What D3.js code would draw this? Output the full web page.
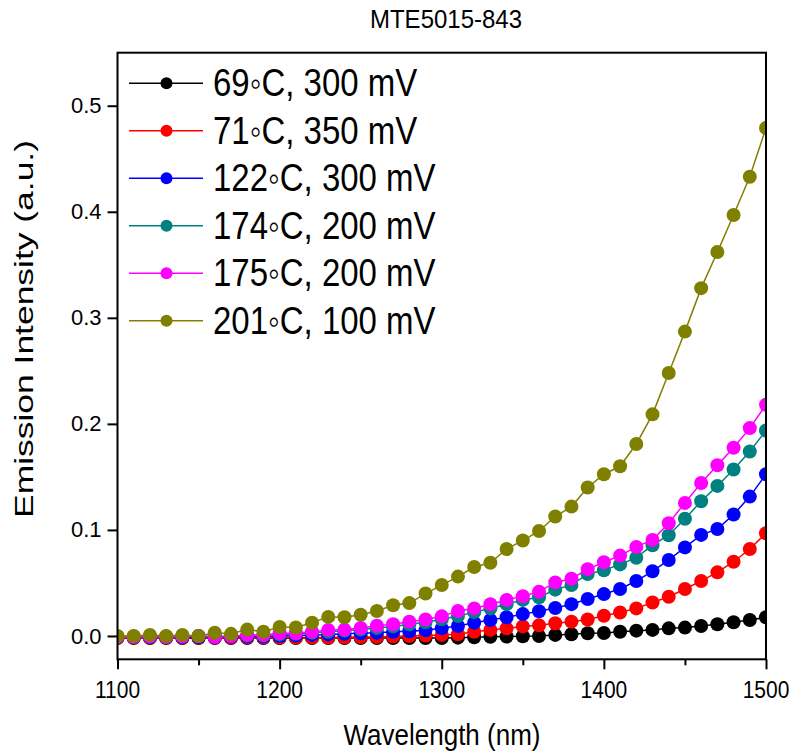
<!DOCTYPE html>
<html>
<head>
<meta charset="utf-8">
<script src="https://cdn.jsdelivr.net/npm/d3@7"></script>
<style>
  body { margin: 0; background: #fff; }
  text { font-family: "Liberation Sans", Arial, sans-serif; fill: #000; }
</style>
</head>
<body>
<div id="chart"></div>
<script>
// wavelength grid (nm)
const wavelengths = d3.range(1100, 1501, 10);

// emission intensity per series, one value per wavelength
const s69 = [-0.002, -0.002, -0.002, -0.002, -0.002, -0.002, -0.002, -0.002, -0.002, -0.002,
    -0.002, -0.002, -0.002, -0.002, -0.002, -0.002, -0.002, -0.002, -0.002, -0.002,
    -0.002, -0.0016, -0.0012, -0.0007, -0.0005, -0.0003, 0.0, 0.001, 0.0016, 0.0025,
    0.0028, 0.004, 0.005, 0.0057, 0.0072, 0.0079, 0.0094, 0.011, 0.0129, 0.0151, 0.0176];
const s71 = [-0.0015, -0.0015, -0.0015, -0.0015, -0.0015, -0.0015, -0.0015, -0.0015, -0.0015, -0.0015,
    -0.0015, -0.0015, -0.0015, -0.0015, -0.0012, -0.001, -0.001, -0.0005, 0.0, 0.0005,
    0.001, 0.0016, 0.004, 0.0057, 0.0072, 0.009, 0.010, 0.012, 0.0135, 0.0155,
    0.019, 0.0222, 0.026, 0.0316, 0.037, 0.0443, 0.0519, 0.060, 0.070, 0.082, 0.0969];
const s122 = [-0.001, -0.001, -0.001, -0.001, -0.001, -0.001, -0.001, -0.0005, -0.0005, -0.0005,
    0.0, 0.0005, 0.001, 0.0015, 0.002, 0.0025, 0.003, 0.004, 0.0045, 0.0055,
    0.0072, 0.0094, 0.0125, 0.015, 0.0176, 0.0206, 0.0233, 0.0264, 0.030, 0.0348,
    0.0395, 0.0443, 0.0519, 0.061, 0.0717, 0.0835, 0.0953, 0.1008, 0.1145, 0.1314, 0.1525];
const s174 = [-0.0005, -0.0005, -0.0005, -0.0005, -0.0005, 0.0, -0.0005, 0.0, 0.0005, 0.0005,
    0.0015, 0.002, 0.003, 0.004, 0.005, 0.006, 0.0075, 0.009, 0.011, 0.013,
    0.0157, 0.0189, 0.0225, 0.026, 0.030, 0.034, 0.0365, 0.0437, 0.048, 0.0585,
    0.062, 0.0675, 0.0738, 0.0856, 0.095, 0.1105, 0.127, 0.1415, 0.157, 0.174, 0.1937];
const s175 = [-0.001, -0.001, -0.0005, -0.001, -0.0005, 0.0, -0.001, 0.0, 0.001, 0.001,
    0.0025, 0.0025, 0.004, 0.0057, 0.006, 0.0075, 0.0097, 0.011, 0.0135, 0.0155,
    0.0185, 0.0236, 0.026, 0.0299, 0.034, 0.0374, 0.0418, 0.0505, 0.054, 0.063,
    0.0695, 0.0758, 0.084, 0.0906, 0.1063, 0.1255, 0.1443, 0.161, 0.1775, 0.196, 0.218];
const s201 = [0.0, 0.0, 0.001, 0.0, 0.001, 0.0, 0.003, 0.002, 0.006, 0.004,
    0.0085, 0.008, 0.0125, 0.018, 0.0176, 0.020, 0.0236, 0.029, 0.031, 0.040,
    0.048, 0.056, 0.065, 0.069, 0.082, 0.090, 0.099, 0.1126, 0.122, 0.140,
    0.1525, 0.160, 0.181, 0.209, 0.248, 0.287, 0.328, 0.362, 0.397, 0.433, 0.479];

const seriesNames = ['69\u25E6C, 300 mV', '71\u25E6C, 350 mV', '122\u25E6C, 300 mV',
    '174\u25E6C, 200 mV', '175\u25E6C, 200 mV', '201\u25E6C, 100 mV'];
const seriesValues = [s69, s71, s122, s174, s175, s201];
const seriesColors = ['#000000', '#ff0000', '#0000ff', '#008080', '#ff00ff', '#808000'];

const xTicks = [1100, 1200, 1300, 1400, 1500];
const xMinorTicks = [1150, 1250, 1350, 1450];
const yTicks = [0.0, 0.1, 0.2, 0.3, 0.4, 0.5];

// text in the source looks a bit stretched vertically
function tallText(sel, x, y, k) {
    return sel.append('text')
        .attr('transform', 'translate(' + x + ',' + y + ') scale(1,' + k + ')');
}

function DrawChart(idDomElement) {
    const width = 792;
    const height = 751;
    const left = 117.5, right = 766, top = 52.7, bottom = 659.3;

    let svg = d3.select(`#${idDomElement}`)
        .append('svg')
        .attr('width', width)
        .attr('height', height);

    const scaleX = d3.scaleLinear().domain([1100, 1500]).range([left, right]);
    const scaleY = d3.scaleLinear().domain([-0.022, 0.55]).range([bottom, top]);

    // clip marks to plot frame
    svg.append('clipPath').attr('id', 'plotClip')
        .append('rect')
        .attr('x', left).attr('y', top)
        .attr('width', right - left).attr('height', bottom - top);

    const plot = svg.append('g').attr('clip-path', 'url(#plotClip)');

    seriesValues.forEach(function (vals, k) {
        const pts = wavelengths.map((w, i) => ({ x: w, y: vals[i] }));
        const g = plot.append('g');
        g.append('path')
            .datum(pts)
            .attr('fill', 'none')
            .attr('stroke', seriesColors[k])
            .attr('stroke-width', 1.5)
            .attr('d', d3.line().x(d => scaleX(d.x)).y(d => scaleY(d.y)));
        g.selectAll('circle')
            .data(pts)
            .enter().append('circle')
            .attr('cx', d => scaleX(d.x))
            .attr('cy', d => scaleY(d.y))
            .attr('r', 7)
            .attr('fill', seriesColors[k]);
    });

    // frame
    svg.append('rect')
        .attr('x', left).attr('y', top)
        .attr('width', right - left).attr('height', bottom - top)
        .attr('fill', 'none')
        .attr('stroke', '#000')
        .attr('stroke-width', 2);

    // x axis (labels drawn separately so they can be stretched)
    const xAxis = d3.axisBottom(scaleX).tickValues(xTicks).tickSize(10).tickFormat('');
    const gx = svg.append('g')
        .attr('transform', 'translate(0,' + bottom + ')')
        .call(xAxis);
    gx.select('.domain').remove();
    gx.selectAll('line').attr('stroke-width', 2);
    xTicks.forEach(function (t) {
        tallText(svg, scaleX(t), 698, 1.12)
            .attr('text-anchor', 'middle')
            .style('font-size', '21px')
            .text(t);
    });

    const xMinor = d3.axisBottom(scaleX).tickValues(xMinorTicks).tickSize(6).tickFormat('');
    const gxm = svg.append('g')
        .attr('transform', 'translate(0,' + bottom + ')')
        .call(xMinor);
    gxm.select('.domain').remove();
    gxm.selectAll('line').attr('stroke-width', 2);

    // y axis
    const yAxis = d3.axisLeft(scaleY).tickValues(yTicks).tickSize(10).tickPadding(6)
        .tickFormat(d3.format('.1f'));
    const gy = svg.append('g')
        .attr('transform', 'translate(' + left + ',0)')
        .call(yAxis);
    gy.select('.domain').remove();
    gy.selectAll('line').attr('stroke-width', 2);
    gy.selectAll('text').style('font-size', '22px');

    // titles
    tallText(svg, 446, 28, 1.1)
        .attr('text-anchor', 'middle')
        .style('font-size', '24px')
        .text('MTE5015-843');

    tallText(svg, 442, 745, 1.1)
        .attr('text-anchor', 'middle')
        .style('font-size', '26px')
        .text('Wavelength (nm)');

    svg.append('text')
        .attr('transform', 'translate(33,329) rotate(-90)')
        .attr('text-anchor', 'middle')
        .attr('textLength', 378)
        .attr('lengthAdjust', 'spacingAndGlyphs')
        .style('font-size', '26px')
        .text('Emission Intensity (a.u.)');

    // legend
    const legend = svg.append('g');
    seriesNames.forEach(function (name, k) {
        const cy = 83.3 + k * 47.5;
        legend.append('line')
            .attr('x1', 129).attr('x2', 203)
            .attr('y1', cy).attr('y2', cy)
            .attr('stroke', seriesColors[k])
            .attr('stroke-width', 1.5);
        legend.append('circle')
            .attr('cx', 166.5).attr('cy', cy).attr('r', 6)
            .attr('fill', seriesColors[k]);
        tallText(legend, 213, cy + 13, 1.15)
            .style('font-size', '33px')
            .text(name);
    });
}

DrawChart('chart');
</script>
</body>
</html>
